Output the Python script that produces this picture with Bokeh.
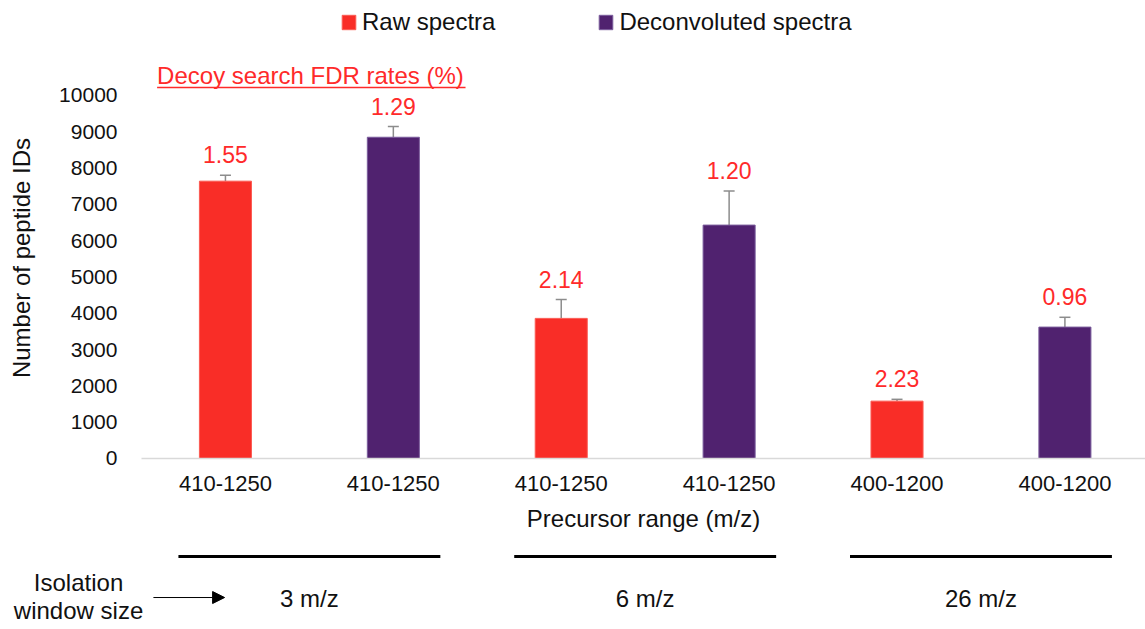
from bokeh.plotting import figure
from bokeh.models import (ColumnDataSource, FixedTicker, Whisker, TeeHead, Legend, LegendItem,
                          Label, LabelSet, Arrow, NormalHead, Range1d)
from bokeh.core.properties import value
from bokeh.embed import file_html
from bokeh.resources import INLINE

# ---------------- data ----------------
precursor_ranges = ["410-1250", "410-1250", "410-1250", "410-1250", "400-1200", "400-1200"]
window_sizes = ["3 m/z", "6 m/z", "26 m/z"]
raw_ids = [7640, 3860, 1580]
raw_err = [160, 520, 50]
raw_fdr = ["1.55", "2.14", "2.23"]
dec_ids = [8850, 6430, 3620]
dec_err = [295, 940, 270]
dec_fdr = ["1.29", "1.20", "0.96"]
y_ticks = [0, 1000, 2000, 3000, 4000, 5000, 6000, 7000, 8000, 9000, 10000]

# ---------------- style ----------------
RED = "#f92d27"
PURPLE = "#50226f"
LABEL_RED = "#ff2a2a"
FONT = "Liberation Sans"
INK = "#111111"

raw_x = [1 + 2 * i for i in range(len(raw_ids))]
dec_x = [2 + 2 * i for i in range(len(dec_ids))]

raw_src = ColumnDataSource(dict(x=raw_x, top=raw_ids, up=[v + e for v, e in zip(raw_ids, raw_err)], lab=raw_fdr))
dec_src = ColumnDataSource(dict(x=dec_x, top=dec_ids, up=[v + e for v, e in zip(dec_ids, dec_err)], lab=dec_fdr))

# the frame covers the whole canvas; axes sit at fixed data locations
p = figure(width=1145, height=629, output_backend="svg", toolbar_location=None,
           x_range=Range1d(-0.3398, 6.48), y_range=Range1d(-4711, 12617), min_border=0)
p.outline_line_color = None
p.xgrid.visible = False
p.ygrid.visible = False
p.background_fill_color = "white"
p.border_fill_color = "white"

r_raw = p.vbar(x="x", top="top", width=0.31, source=raw_src, fill_color=RED, line_color="#fb5a52", line_width=1)
r_dec = p.vbar(x="x", top="top", width=0.31, source=dec_src, fill_color=PURPLE, line_color="#7a5c9c", line_width=1)

for src in (raw_src, dec_src):
    w = Whisker(base="x", lower="top", upper="up", source=src, dimension="height",
                line_color="#8c8c8c", line_width=1.5,
                upper_head=TeeHead(size=11, line_color="#8c8c8c", line_width=1.5), lower_head=None)
    p.add_layout(w)
    p.add_layout(LabelSet(x="x", y="up", text="lab", source=src, y_offset=12, text_align="center",
                          text_baseline="alphabetic", text_color=LABEL_RED, text_font=value(FONT),
                          text_font_size="23px"))

# axes
p.xaxis.fixed_location = 0
p.xaxis.bounds = (0.5, 6.48)
p.xaxis.ticker = FixedTicker(ticks=list(range(1, 7)))
p.xaxis.major_label_overrides = {i + 1: lab for i, lab in enumerate(precursor_ranges)}
p.xaxis.axis_line_color = "#d9d9d9"
p.xaxis.axis_line_width = 1.5
p.xaxis.major_tick_line_color = None
p.xaxis.minor_tick_line_color = None
p.xaxis.major_label_text_font = FONT
p.xaxis.major_label_text_font_size = "22px"
p.xaxis.major_label_text_color = INK
p.xaxis.major_label_standoff = 12
p.xaxis.axis_label = "Precursor range (m/z)"
p.xaxis.axis_label_text_font = FONT
p.xaxis.axis_label_text_font_style = "normal"
p.xaxis.axis_label_text_font_size = "24px"
p.xaxis.axis_label_text_color = INK
p.xaxis.axis_label_standoff = 10

p.yaxis.fixed_location = 0.5
p.yaxis.bounds = (0, 11047)
p.yaxis.ticker = FixedTicker(ticks=y_ticks)
p.yaxis.axis_line_color = None
p.yaxis.major_tick_line_color = None
p.yaxis.minor_tick_line_color = None
p.yaxis.major_label_text_font = FONT
p.yaxis.major_label_text_font_size = "21px"
p.yaxis.major_label_text_color = INK
p.yaxis.major_label_standoff = 18
p.yaxis.axis_label = "Number of peptide IDs"
p.yaxis.axis_label_text_font = FONT
p.yaxis.axis_label_text_font_style = "normal"
p.yaxis.axis_label_text_font_size = "24px"
p.yaxis.axis_label_text_color = INK
p.yaxis.axis_label_standoff = 21

# legend
legend = Legend(items=[LegendItem(label="Raw spectra", renderers=[r_raw]),
                       LegendItem(label="Deconvoluted spectra", renderers=[r_dec])],
                orientation="horizontal", location=(340, 593),
                glyph_width=17, glyph_height=18, label_standoff=5, spacing=102,
                padding=0, margin=0, border_line_color=None, background_fill_alpha=0,
                label_text_font=FONT, label_text_font_size="24px", label_text_color=INK)
p.add_layout(legend)

# FDR caption (underlined)
p.add_layout(Label(x=0.593, y=10551, text="Decoy search FDR rates (%)", text_align="left",
                   text_baseline="middle", text_color=LABEL_RED, text_font=FONT, text_font_size="24px"))
p.add_layout(Arrow(x_start=0.593, y_start=10220, x_end=2.43, y_end=10220, start=None, end=None,
                   line_color=LABEL_RED, line_width=1.5))

# window size groups below the axis
grp_center = [(a + b) / 2 for a, b in zip(raw_x, dec_x)]
grp_src = ColumnDataSource(dict(x0=[c - 0.78 for c in grp_center], x1=[c + 0.78 for c in grp_center],
                                y=[-2700] * 3, xc=grp_center, yl=[-3857] * 3, lab=window_sizes))
p.add_layout(Arrow(x_start="x0", y_start="y", x_end="x1", y_end="y", source=grp_src,
                   start=None, end=None, line_color="black", line_width=3))
p.add_layout(LabelSet(x="xc", y="yl", text="lab", source=grp_src, text_align="center",
                      text_baseline="middle", text_font=value(FONT), text_font_size="24px",
                      text_color=INK))

p.add_layout(Label(x=0.125, y=-3407, text="Isolation", text_align="center", text_baseline="middle",
                   text_font=FONT, text_font_size="24px", text_color=INK))
p.add_layout(Label(x=0.125, y=-4187, text="window size", text_align="center", text_baseline="middle",
                   text_font=FONT, text_font_size="24px", text_color=INK))
p.add_layout(Arrow(x_start=0.571, y_start=-3830, x_end=0.995, y_end=-3830, start=None,
                   end=NormalHead(size=12, fill_color="black", line_color="black"),
                   line_color="black", line_width=1))

open("out.html", "w").write(file_html(p, INLINE))
